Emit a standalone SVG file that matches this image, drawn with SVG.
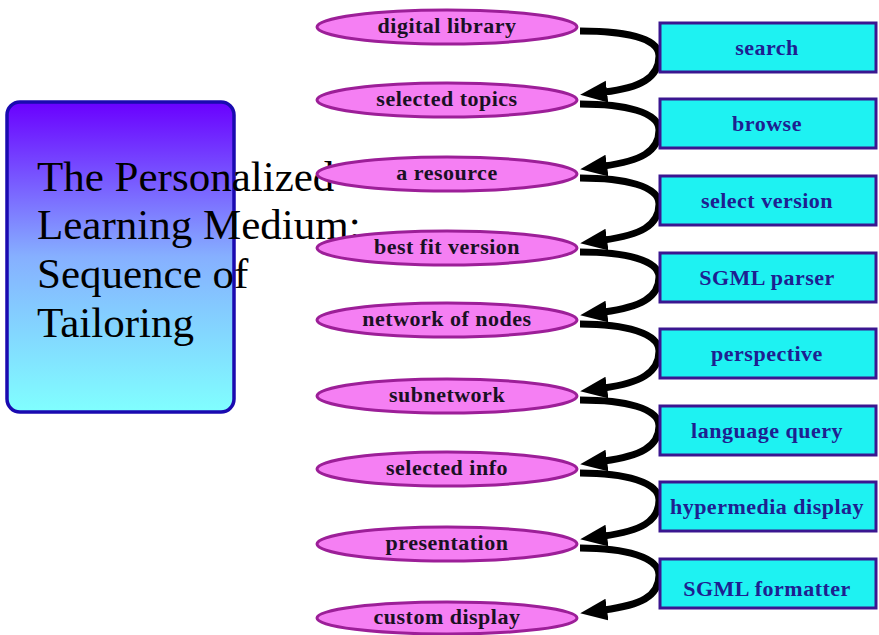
<svg xmlns="http://www.w3.org/2000/svg" width="879" height="635" viewBox="0 0 879 635">
<defs>
<linearGradient id="lg" x1="0" y1="0" x2="0" y2="1">
<stop offset="0" stop-color="#6A00FF"/>
<stop offset="0.5" stop-color="#86B0FF"/>
<stop offset="1" stop-color="#80FFFF"/>
</linearGradient>
<marker id="ah" markerUnits="userSpaceOnUse" markerWidth="32" markerHeight="24" refX="3" refY="11" orient="auto">
<path d="M0,0 L27,11 L0,22 z" fill="#000"/>
</marker>
<style>
.el{fill:#F57FF3;stroke:#9C1F98;stroke-width:3}
.et{font-family:"Liberation Serif",serif;font-weight:bold;font-size:22px;letter-spacing:0.5px;fill:#1A1024;text-anchor:middle}
.bx{fill:#1EF2F2;stroke:#3A1690;stroke-width:3}
.bt{font-family:"Liberation Serif",serif;font-weight:bold;font-size:22px;letter-spacing:0.5px;fill:#1E2090;text-anchor:middle}
.cn{fill:none;stroke:#000;stroke-width:7;marker-end:url(#ah)}
.tt{font-family:"Liberation Serif",serif;font-size:43px;fill:#000}
</style>
</defs>
<g id="title">
<rect x="7" y="102" width="227" height="310" rx="13" fill="url(#lg)" stroke="#1A0AB0" stroke-width="3.5"/>
</g>
<g id="connectors">
<path class="cn" d="M580 31 C625 31 659 38 659 56 C659 78 640 88 604 92"/>
<path class="cn" d="M580 104 C625 104 659 112 659 130 C659 152 640 161 604 166"/>
<path class="cn" d="M580 178 C625 178 659 186 659 204 C659 226 640 235 604 240"/>
<path class="cn" d="M580 252 C625 252 659 260 659 277 C659 298 640 307 604 312"/>
<path class="cn" d="M580 324 C625 324 659 333 659 351 C659 373 640 383 604 388"/>
<path class="cn" d="M580 400 C625 400 659 408 659 426 C659 447 640 456 604 461"/>
<path class="cn" d="M580 473 C625 473 659 482 659 500 C659 522 640 531 604 536"/>
<path class="cn" d="M580 548 C625 548 659 557 659 575 C659 597 640 605 604 610"/>
</g>
<g id="title-text">
<text class="tt" x="37" y="191">The Personalized</text>
<text class="tt" x="37" y="239">Learning Medium:</text>
<text class="tt" x="37" y="288">Sequence of</text>
<text class="tt" x="37" y="337">Tailoring</text>
</g>
<g id="n1"><ellipse class="el" cx="447" cy="27" rx="130" ry="17"/><text class="et" x="447" y="33">digital library</text></g>
<g id="n2"><ellipse class="el" cx="447" cy="100" rx="130" ry="17"/><text class="et" x="447" y="106">selected topics</text></g>
<g id="n3"><ellipse class="el" cx="447" cy="174" rx="130" ry="17"/><text class="et" x="447" y="180">a resource</text></g>
<g id="n4"><ellipse class="el" cx="447" cy="248" rx="130" ry="17"/><text class="et" x="447" y="254">best fit version</text></g>
<g id="n5"><ellipse class="el" cx="447" cy="320" rx="130" ry="17"/><text class="et" x="447" y="326">network of nodes</text></g>
<g id="n6"><ellipse class="el" cx="447" cy="396" rx="130" ry="17"/><text class="et" x="447" y="402">subnetwork</text></g>
<g id="n7"><ellipse class="el" cx="447" cy="469" rx="130" ry="17"/><text class="et" x="447" y="475">selected info</text></g>
<g id="n8"><ellipse class="el" cx="447" cy="544" rx="130" ry="17"/><text class="et" x="447" y="550">presentation</text></g>
<g id="n9"><ellipse class="el" cx="447" cy="618" rx="130" ry="16"/><text class="et" x="447" y="624">custom display</text></g>
<g id="b1"><rect class="bx" x="660" y="23" width="216" height="49"/><text class="bt" x="767" y="55">search</text></g>
<g id="b2"><rect class="bx" x="660" y="99" width="216" height="49"/><text class="bt" x="767" y="131">browse</text></g>
<g id="b3"><rect class="bx" x="660" y="176" width="216" height="49"/><text class="bt" x="767" y="208">select version</text></g>
<g id="b4"><rect class="bx" x="660" y="253" width="216" height="49"/><text class="bt" x="767" y="285">SGML parser</text></g>
<g id="b5"><rect class="bx" x="660" y="329" width="216" height="49"/><text class="bt" x="767" y="361">perspective</text></g>
<g id="b6"><rect class="bx" x="660" y="406" width="216" height="49"/><text class="bt" x="767" y="438">language query</text></g>
<g id="b7"><rect class="bx" x="660" y="482" width="216" height="49"/><text class="bt" x="767" y="514">hypermedia display</text></g>
<g id="b8"><rect class="bx" x="660" y="559" width="216" height="49"/><text class="bt" x="767" y="596">SGML formatter</text></g>
</svg>
